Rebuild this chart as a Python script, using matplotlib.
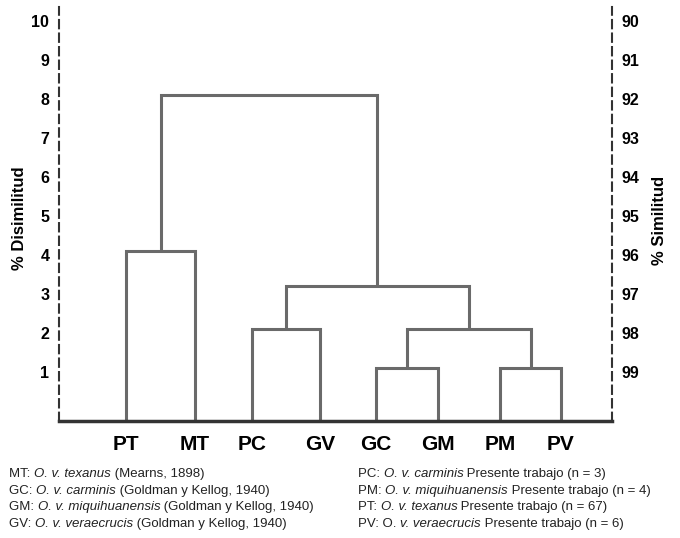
import matplotlib.pyplot as plt

# leaf order and the merge heights (% dissimilarity)
leaves = ["PT", "MT", "PC", "GV", "GC", "GM", "PM", "PV"]
# merges: (left child, right child, height); children are leaf names or merge index
merges = [
    ("PT", "MT", 4.1),
    ("PC", "GV", 2.1),
    ("GC", "GM", 1.1),
    ("PM", "PV", 1.1),
    (2, 3, 2.1),
    (1, 4, 3.2),
    (0, 5, 8.1),
]
dis_ticks = [1, 2, 3, 4, 5, 6, 7, 8, 9, 10]
sim_labels = [str(100 - t) for t in dis_ticks]

# footnotes: (text, italic) pieces
notes_left = [
    [("MT: ", False), ("O. v. texanus", True), (" (Mearns, 1898)", False)],
    [("GC: ", False), ("O. v. carminis", True), (" (Goldman y Kellog, 1940)", False)],
    [("GM: ", False), ("O. v. miquihuanensis", True), (" (Goldman y Kellog, 1940)", False)],
    [("GV: ", False), ("O. v. veraecrucis", True), (" (Goldman y Kellog, 1940)", False)],
]
notes_right = [
    [("PC: ", False), ("O. v. carminis", True), (" Presente trabajo (n = 3)", False)],
    [("PM: ", False), ("O. v. miquihuanensis", True), (" Presente trabajo (n = 4)", False)],
    [("PT: ", False), ("O. v. texanus", True), (" Presente trabajo (n = 67)", False)],
    [("PV: O. ", False), ("v. veraecrucis", True), (" Presente trabajo (n = 6)", False)],
]

# layout: leaf positions (pixels in the original picture)
leaf_x = [126, 195, 252, 320, 376, 438, 500, 561]

plt.rcParams["font.family"] = ["Liberation Sans", "DejaVu Sans"]

fig = plt.figure(figsize=(6.8, 5.38), dpi=100)
ax = fig.add_axes([59 / 680, 1 - 421 / 538, (612 - 59) / 680, (421 - 7) / 538])
ymin, ymax = -0.25, 10.36
ax.set_xlim(59, 612)
ax.set_ylim(ymin, ymax)

line_col = "#6a6a6a"
pos = {n: (x, ymin) for n, x in zip(leaves, leaf_x)}
nodes = []
for a, b, h in merges:
    xa, ya = pos[a] if isinstance(a, str) else nodes[a]
    xb, yb = pos[b] if isinstance(b, str) else nodes[b]
    ax.plot([xa, xa, xb, xb], [ya, h, h, yb], color=line_col, lw=2.2,
            solid_joinstyle="miter", solid_capstyle="butt")
    nodes.append(((xa + xb) / 2, h))

# spines
ax.spines["top"].set_visible(False)
for side in ["left", "right"]:
    ax.spines[side].set_linestyle((0, (4, 2.5)))
    ax.spines[side].set_linewidth(1.5)
    ax.spines[side].set_color("#333333")
ax.spines["bottom"].set_linewidth(2.5)
ax.spines["bottom"].set_color("#333333")

ax.set_xticks(leaf_x)
ax.set_xticklabels(leaves, fontsize=15, fontweight="bold")
ax.tick_params(axis="x", length=0, pad=10)
ax.set_yticks(dis_ticks)
ax.set_yticklabels([str(t) for t in dis_ticks], fontsize=11.5, fontweight="bold")
ax.tick_params(axis="y", length=0, pad=7)

ax2 = ax.twinx()
ax2.set_ylim(ymin, ymax)
ax2.set_yticks(dis_ticks)
ax2.set_yticklabels(sim_labels, fontsize=11.5, fontweight="bold")
ax2.tick_params(axis="y", length=0, pad=7)
for s in ax2.spines.values():
    s.set_visible(False)

fig.text(20 / 680, 1 - 218 / 538, "% Disimilitud", rotation=90, fontsize=12,
         fontweight="bold", ha="center", va="center")
fig.text(660 / 680, 1 - 220 / 538, "% Similitud", rotation=90, fontsize=12,
         fontweight="bold", ha="center", va="center")

renderer = fig.canvas.get_renderer()


def note(x, y, pieces):
    # put the pieces one after another on the same baseline
    for txt, it in pieces:
        t = fig.text(x, y, txt, fontsize=9.5, style="italic" if it else "normal",
                     va="baseline", color="#222222")
        bb = t.get_window_extent(renderer)
        x = bb.x1 / fig.bbox.width


for i, (l, r) in enumerate(zip(notes_left, notes_right)):
    y = 1 - (477 + i * 16.7) / 538
    note(9 / 680, y, l)
    note(358 / 680, y, r)

fig.savefig("out.png", dpi=100, facecolor="white")
